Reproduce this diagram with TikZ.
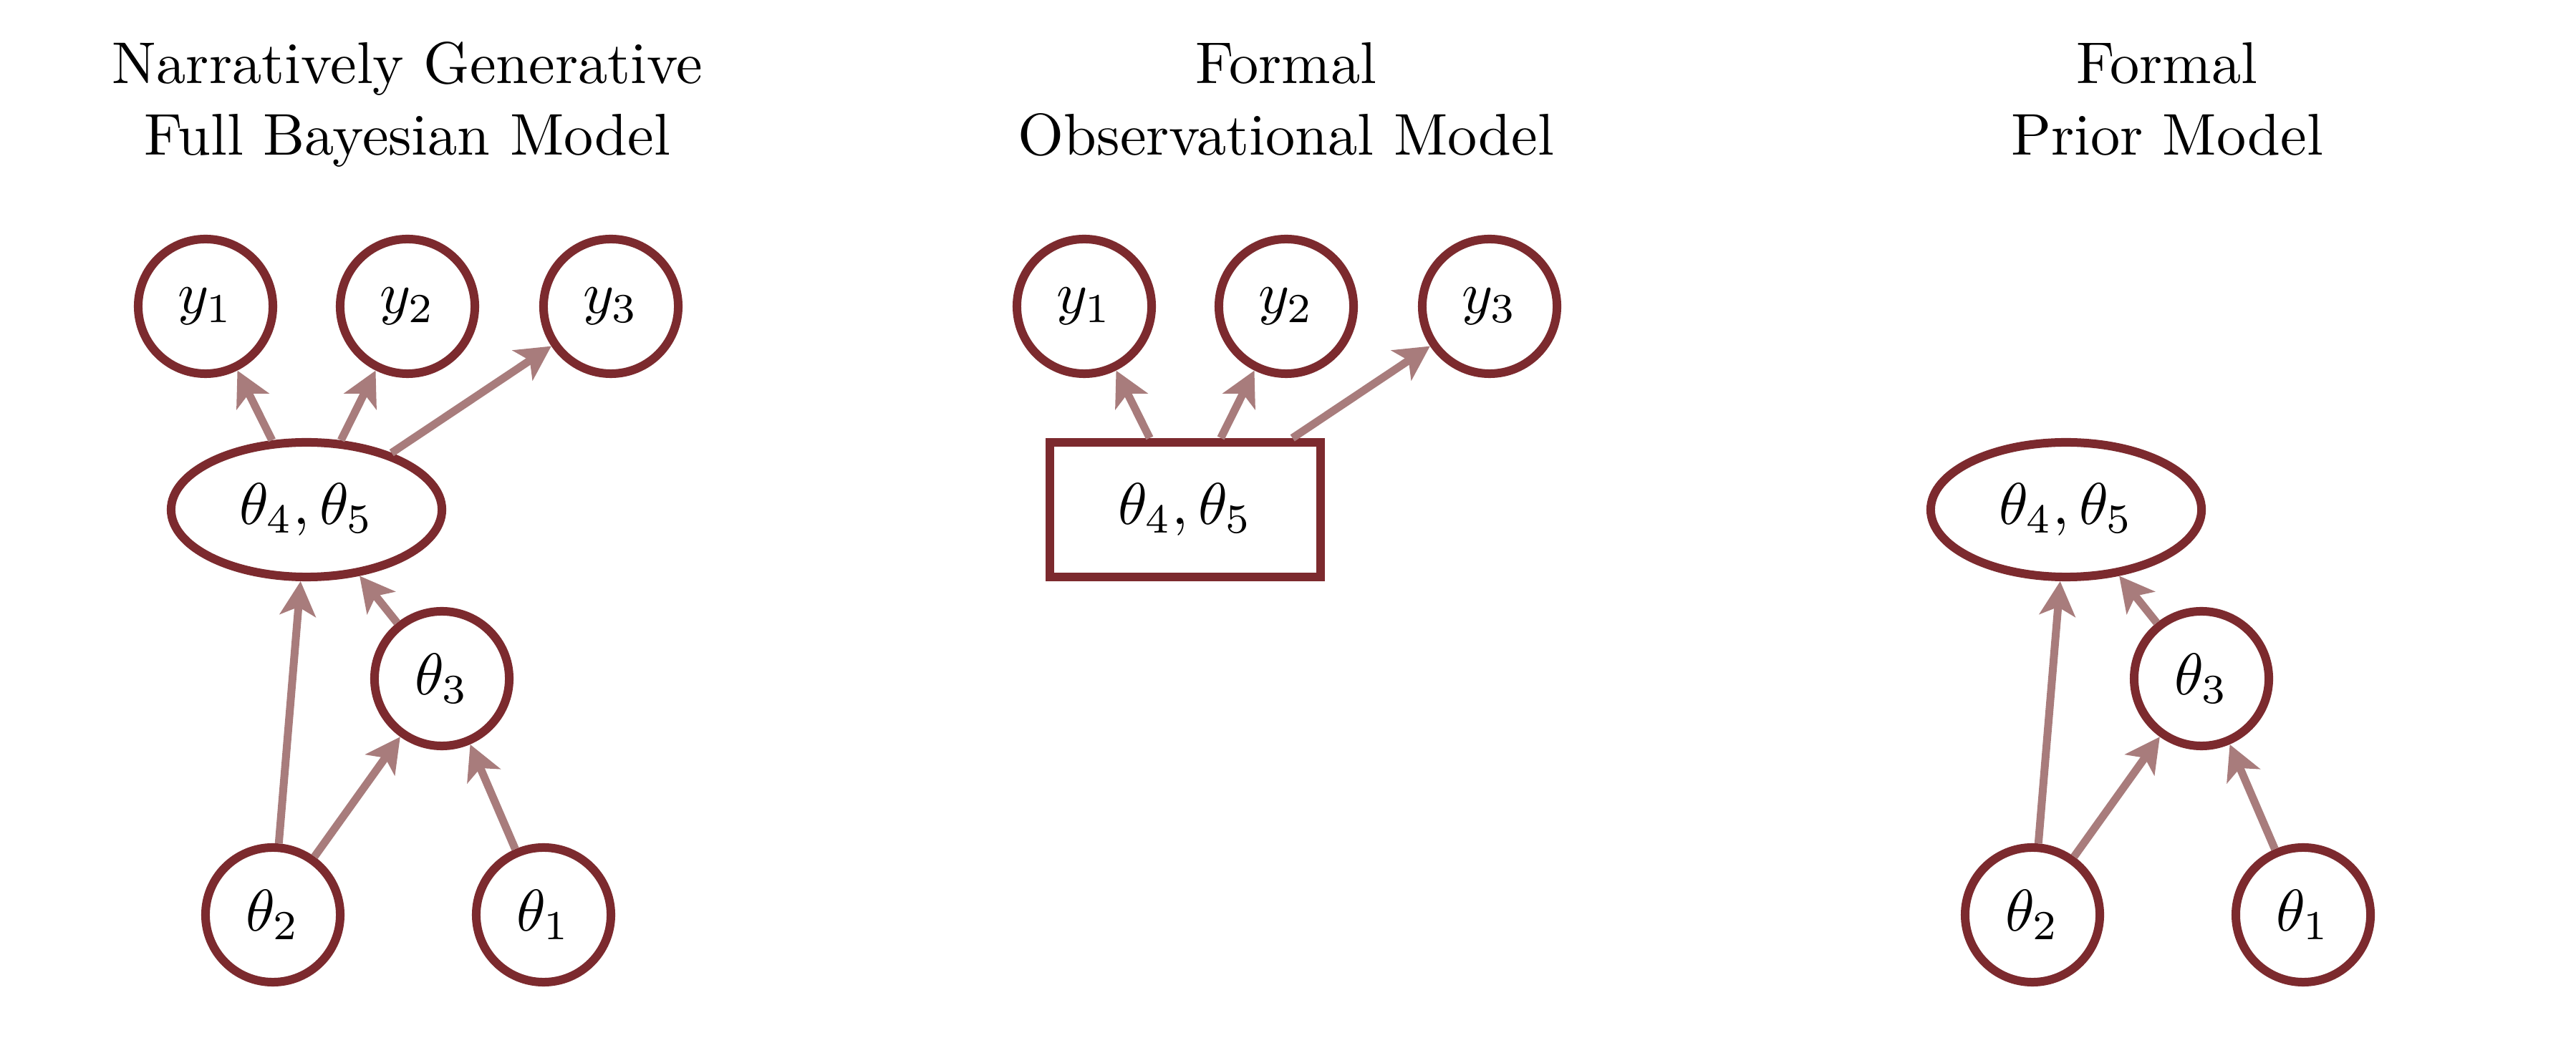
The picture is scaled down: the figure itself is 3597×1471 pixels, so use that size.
\documentclass[tikz,border=0pt]{standalone}
\usepackage{graphicx}
\usetikzlibrary{arrows.meta,shapes.geometric}
\definecolor{nodedark}{RGB}{124,42,46}
\definecolor{arrowmid}{RGB}{168,124,124}
\newcommand{\bigtxt}[1]{\scalebox{2.34}{#1}}
\tikzset{
  var/.style={circle, draw=nodedark, line width=0.12cm, fill=white,
    minimum size=1.88cm, inner sep=0pt, font=\normalsize},
  grp/.style={ellipse, draw=nodedark, line width=0.12cm, fill=white,
    minimum width=3.78cm, minimum height=1.88cm, inner sep=0pt, font=\normalsize},
  fixedbox/.style={rectangle, draw=nodedark, line width=0.12cm, fill=white,
    minimum width=3.78cm, minimum height=1.88cm, inner sep=0pt, font=\normalsize},
  edge/.style={draw=arrowmid, line width=0.11cm,
    -{Stealth[length=4.8mm,width=5mm,inset=1.2mm]}},
  ttl/.style={anchor=base, font=\normalsize, inner sep=0pt}
}
\begin{document}
\begin{tikzpicture}[x=0.01cm,y=-0.01cm]
\useasboundingbox (0,0) rectangle (3597,1471);

% ---------- Left panel ----------
\node[ttl] (t1a) at (569,117) {\bigtxt{Narratively Generative}};
\node[ttl] (t1b) at (569,217) {\bigtxt{Full Bayesian Model}};
\node[var] (Ly1) at (287,428) {\bigtxt{$y_1$}};
\node[var] (Ly2) at (569,428) {\bigtxt{$y_2$}};
\node[var] (Ly3) at (853,428) {\bigtxt{$y_3$}};
\node[grp] (Lth45) at (428,712) {\bigtxt{$\theta_4, \theta_5$}};
\node[var] (Lth3) at (617,948) {\bigtxt{$\theta_3$}};
\node[var] (Lth2) at (381,1278) {\bigtxt{$\theta_2$}};
\node[var] (Lth1) at (759,1278) {\bigtxt{$\theta_1$}};
\draw[edge] (Lth45) -- (Ly1);
\draw[edge] (Lth45) -- (Ly2);
\draw[edge] (Lth45) -- (Ly3);
\draw[edge] (Lth3) -- (Lth45);
\draw[edge] (Lth2) -- (Lth45);
\draw[edge] (Lth2) -- (Lth3);
\draw[edge] (Lth1) -- (Lth3);

% ---------- Middle panel ----------
\node[ttl] (t2a) at (1796,117) {\bigtxt{Formal}};
\node[ttl] (t2b) at (1796,217) {\bigtxt{Observational Model}};
\node[var] (My1) at (1514,428) {\bigtxt{$y_1$}};
\node[var] (My2) at (1796,428) {\bigtxt{$y_2$}};
\node[var] (My3) at (2080,428) {\bigtxt{$y_3$}};
\node[fixedbox] (Mth45) at (1655,712) {\bigtxt{$\theta_4, \theta_5$}};
\draw[edge] (Mth45) -- (My1);
\draw[edge] (Mth45) -- (My2);
\draw[edge] (Mth45) -- (My3);

% ---------- Right panel ----------
\node[ttl] (t3a) at (3026,117) {\bigtxt{Formal}};
\node[ttl] (t3b) at (3026,217) {\bigtxt{Prior Model}};
\node[grp] (Rth45) at (2885,712) {\bigtxt{$\theta_4, \theta_5$}};
\node[var] (Rth3) at (3074,948) {\bigtxt{$\theta_3$}};
\node[var] (Rth2) at (2838,1278) {\bigtxt{$\theta_2$}};
\node[var] (Rth1) at (3216,1278) {\bigtxt{$\theta_1$}};
\draw[edge] (Rth3) -- (Rth45);
\draw[edge] (Rth2) -- (Rth45);
\draw[edge] (Rth2) -- (Rth3);
\draw[edge] (Rth1) -- (Rth3);
\end{tikzpicture}
\end{document}
